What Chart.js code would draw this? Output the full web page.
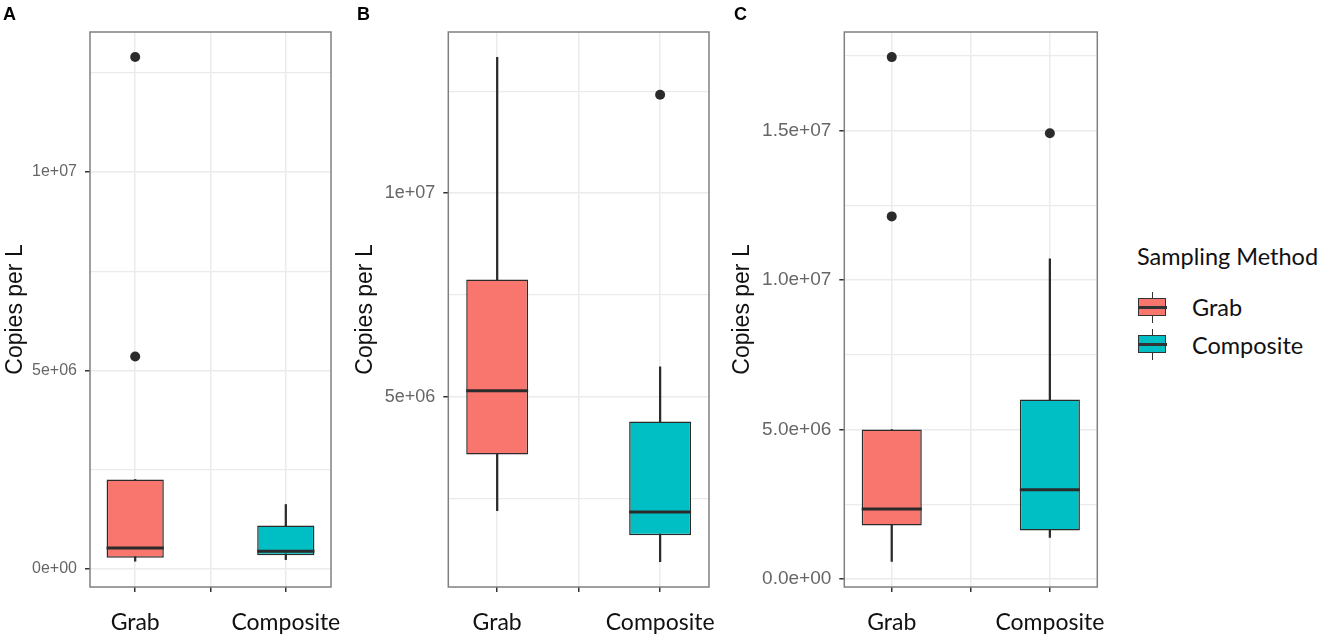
<!DOCTYPE html>
<html>
<head>
<meta charset="utf-8">
<script src="https://cdn.jsdelivr.net/npm/chart.js@4.4.1/dist/chart.umd.min.js"></script>
<style>
  body { margin: 0; background: #fff; width: 1325px; height: 643px; position: relative; overflow: hidden; }
  canvas { position: absolute; top: 0; }
  .tag { position: absolute; top: 5px; font: bold 18px "Liberation Sans", Arial, sans-serif; line-height: 18px; color: #000; }
  .legend-title, .legend-label { position: absolute; font-family: Lato, "Open Sans", sans-serif; font-size: 23.5px; color: #111; line-height: 1; white-space: nowrap; }
  .key { position: absolute; left: 1138px; width: 29px; height: 31px; }
  .key .wh { position: absolute; left: 13.7px; top: 0; width: 1.6px; height: 31px; background: #333; }
  .key .bx { position: absolute; left: 0; top: 6px; width: 26px; height: 16px; border: 1.6px solid #333; }
  .key .md { position: absolute; left: 0; top: 14px; width: 29px; height: 3px; background: #333; }
</style>
</head>
<body>
<canvas id="panelA" width="350" height="643" style="left:0px"></canvas>
<canvas id="panelB" width="370" height="643" style="left:350px"></canvas>
<canvas id="panelC" width="390" height="643" style="left:720px"></canvas>

<div class="tag" style="left:3px">A</div>
<div class="tag" style="left:357px">B</div>
<div class="tag" style="left:734px">C</div>

<div class="legend-title" style="left:1137px; top:245px">Sampling Method</div>
<div class="key" style="top:292px"><div class="wh"></div><div class="bx" style="background:#F8766D"></div><div class="md"></div></div>
<div class="legend-label" style="left:1192px; top:296px">Grab</div>
<div class="key" style="top:328.5px"><div class="wh"></div><div class="bx" style="background:#00BFC4"></div><div class="md"></div></div>
<div class="legend-label" style="left:1192px; top:334px">Composite</div>

<script>
const categories = ['Grab', 'Composite'];
const fills = ['#F8766D', '#00BFC4'];
const xTickValues = [1, 1.5, 2];
const xTickLabels = [categories[0], '', categories[1]];

// Panel A
const aLow = [0.19e6, 0.23e6];
const aQ1 = [0.28e6, 0.34e6];
const aMedian = [0.52e6, 0.44e6];
const aQ3 = [2.25e6, 1.09e6];
const aHigh = [2.25e6, 1.62e6];
const aOutliers = [[12.9e6, 5.35e6], []];
const aRange = [-0.46e6, 13.53e6];
const aTicks = [0, 5e6, 1e7];
const aTickLabels = ['0e+00', '5e+06', '1e+07'];
const aMinor = [2.5e6, 7.5e6, 12.5e6];

// Panel B
const bLow = [2.21e6, 0.96e6];
const bQ1 = [3.59e6, 1.61e6];
const bMedian = [5.15e6, 2.18e6];
const bQ3 = [7.88e6, 4.40e6];
const bHigh = [13.33e6, 5.74e6];
const bOutliers = [[], [12.41e6]];
const bRange = [0.34e6, 13.95e6];
const bTicks = [5e6, 1e7];
const bTickLabels = ['5e+06', '1e+07'];
const bMinor = [2.5e6, 7.5e6, 12.5e6];

// Panel C
const cLow = [0.59e6, 1.39e6];
const cQ1 = [1.79e6, 1.62e6];
const cMedian = [2.34e6, 2.98e6];
const cQ3 = [5.0e6, 6.0e6];
const cHigh = [5.0e6, 10.71e6];
const cOutliers = [[17.46e6, 12.13e6], [14.91e6]];
const cRange = [-0.27e6, 18.3e6];
const cTicks = [0, 5e6, 1e7, 1.5e7];
const cTickLabels = ['0.0e+00', '5.0e+06', '1.0e+07', '1.5e+07'];
const cMinor = [2.5e6, 7.5e6, 12.5e6, 17.5e6];

// medians + panel frame, drawn with the chart's own scales
const boxExtras = {
  id: 'boxExtras',
  afterDatasetsDraw(chart, args, opts) {
    const ctx = chart.ctx;
    const yScale = chart.scales.y;
    const meta = chart.getDatasetMeta(1);
    ctx.save();
    ctx.strokeStyle = '#2b2b2b';
    ctx.lineWidth = 3;
    meta.data.forEach((bar, i) => {
      const y = yScale.getPixelForValue(opts.medians[i]);
      ctx.beginPath();
      ctx.moveTo(bar.x - bar.width / 2, y);
      ctx.lineTo(bar.x + bar.width / 2, y);
      ctx.stroke();
    });
    ctx.restore();
  },
  afterDraw(chart) {
    const a = chart.chartArea;
    const ctx = chart.ctx;
    ctx.save();
    ctx.strokeStyle = '#808080';
    ctx.lineWidth = 1.5;
    ctx.strokeRect(a.left, a.top, a.right - a.left, a.bottom - a.top);
    ctx.restore();
  }
};

function boxPanel(id, s) {
  const major = s.ticks;
  const allTicks = major.concat(s.minor).filter(v => v >= s.range[0] && v <= s.range[1]).sort((p, q) => p - q);
  const isMajor = c => c.tick && major.includes(c.tick.value);
  const outlierPoints = [];
  s.outliers.forEach((list, i) => list.forEach(v => outlierPoints.push({ x: i + 1, y: v })));

  new Chart(document.getElementById(id), {
    type: 'bar',
    data: {
      datasets: [
        {
          type: 'line',
          data: outlierPoints,
          showLine: false,
          pointRadius: 5,
          pointBackgroundColor: '#2b2b2b',
          pointBorderWidth: 0,
          order: 0
        },
        {
          data: categories.map((c, i) => ({ x: i + 1, y: [s.q1[i], s.q3[i]] })),
          backgroundColor: fills,
          borderColor: '#2b2b2b',
          borderWidth: 1.5,
          borderSkipped: false,
          grouped: false,
          categoryPercentage: 1,
          barPercentage: 0.76,
          order: 1
        },
        {
          data: categories.map((c, i) => ({ x: i + 1, y: [s.low[i], s.high[i]] })),
          backgroundColor: '#2b2b2b',
          barThickness: 1.6,
          grouped: false,
          order: 2
        }
      ]
    },
    options: {
      responsive: false,
      animation: false,
      layout: { padding: { top: 32, right: s.padRight, bottom: 0, left: 0 } },
      plugins: {
        legend: { display: false },
        tooltip: { enabled: false },
        boxExtras: { medians: s.median }
      },
      scales: {
        x: {
          type: 'linear',
          min: 0.7,
          max: 2.3,
          offset: false,
          afterBuildTicks: sc => { sc.ticks = xTickValues.map(v => ({ value: v })); },
          afterFit: sc => { sc.height = 56; sc.paddingLeft = 0; sc.paddingRight = 0; },
          ticks: {
            callback: (v, i) => xTickLabels[i],
            font: { family: 'Lato', size: 23 },
            color: '#111',
            padding: 17,
            maxRotation: 0,
            autoSkip: false
          },
          grid: { offset: false, color: '#ebebeb', lineWidth: 1.5, tickLength: 5, tickColor: '#333', tickWidth: 1.5 },
          border: { display: false }
        },
        y: {
          min: s.range[0],
          max: s.range[1],
          afterBuildTicks: sc => { sc.ticks = allTicks.map(v => ({ value: v })); },
          afterFit: sc => { sc.width = s.axisWidth; },
          ticks: {
            callback: v => { const k = major.indexOf(v); return k < 0 ? '' : s.tickLabels[k]; },
            font: { family: 'Liberation Sans', size: s.tickSize },
            color: '#666',
            padding: 8,
            autoSkip: false
          },
          grid: {
            color: '#ebebeb',
            lineWidth: c => isMajor(c) ? 1.5 : 1.2,
            tickLength: 5,
            tickColor: c => isMajor(c) ? '#333' : 'rgba(0,0,0,0)',
            tickWidth: 1.5
          },
          border: { display: false },
          title: {
            display: true,
            text: 'Copies per L',
            font: { family: 'Liberation Sans', size: 23 },
            color: '#111',
            padding: { top: s.titlePad, bottom: 0 }
          }
        }
      }
    },
    plugins: [boxExtras]
  });
}

boxPanel('panelA', {
  low: aLow, q1: aQ1, median: aMedian, q3: aQ3, high: aHigh, outliers: aOutliers,
  range: aRange, ticks: aTicks, tickLabels: aTickLabels, minor: aMinor,
  axisWidth: 90, padRight: 19, tickSize: 16, titlePad: 1.5
});
boxPanel('panelB', {
  low: bLow, q1: bQ1, median: bMedian, q3: bQ3, high: bHigh, outliers: bOutliers,
  range: bRange, ticks: bTicks, tickLabels: bTickLabels, minor: bMinor,
  axisWidth: 98.3, padRight: 11, tickSize: 18, titlePad: 2.2
});
boxPanel('panelC', {
  low: cLow, q1: cQ1, median: cMedian, q3: cQ3, high: cHigh, outliers: cOutliers,
  range: cRange, ticks: cTicks, tickLabels: cTickLabels, minor: cMinor,
  axisWidth: 124.3, padRight: 12.7, tickSize: 19, titlePad: 8.7
});
</script>
</body>
</html>
